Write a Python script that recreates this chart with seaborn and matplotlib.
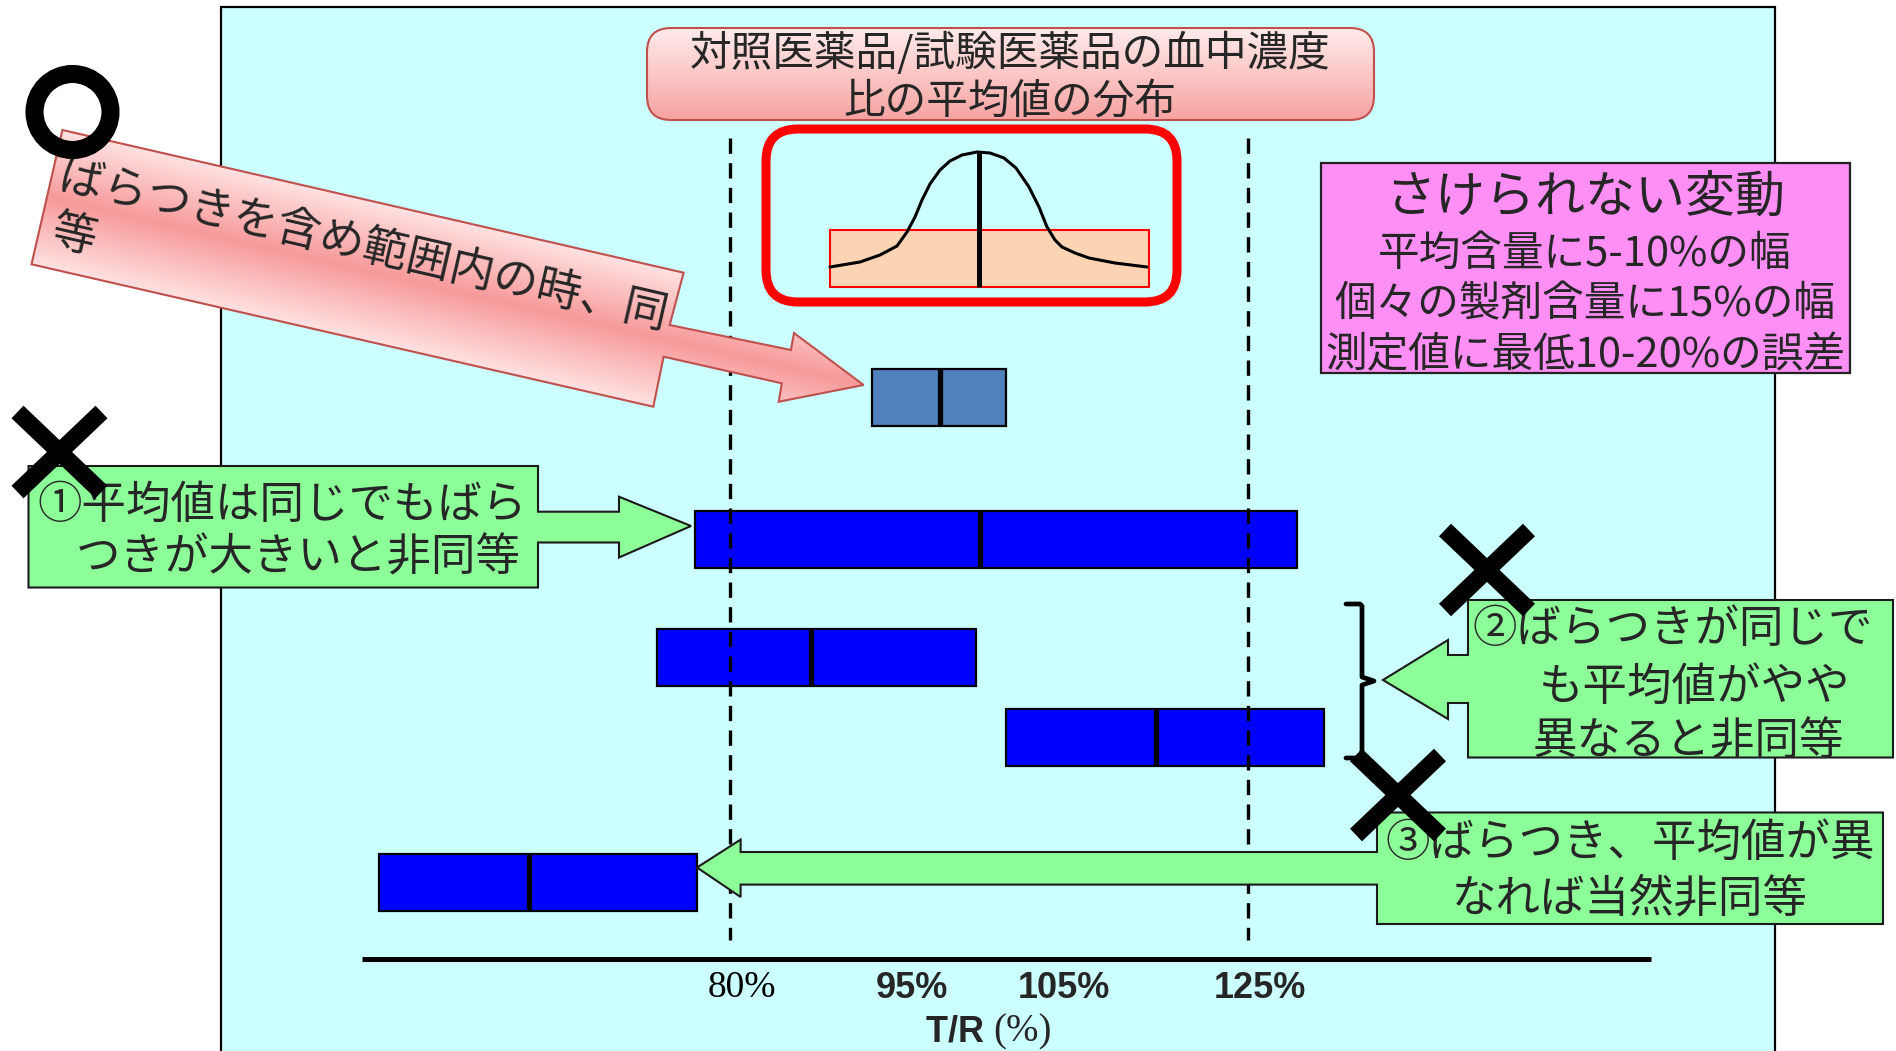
import numpy as np
import matplotlib
matplotlib.use("Agg")
import matplotlib.pyplot as plt
import seaborn as sns
from matplotlib.patches import Polygon, FancyBboxPatch, Rectangle, Circle
from matplotlib.colors import to_rgb

# ---------------- data ----------------
# T/R ratio (%) for each distribution bar: lower end, mean, upper end
lower = [92.3, 77.0, 73.7, 104.0, 49.5]
median = [98.2, 101.7, 87.0, 117.0, 62.5]
upper = [104.0, 129.3, 101.4, 131.6, 77.1]
bar_colors = ["#4F81BD", "#0000FF", "#0000FF", "#0000FF", "#0000FF"]
limits = [80, 125]                       # acceptance range
tick_labels = ["80%", "95%", "105%", "125%"]

# density sketch inside the highlighted inset (pixel coordinates)
curve_x = [830, 860, 880, 897, 907, 915, 922, 930, 940, 950, 962, 977, 990,
           1004, 1016, 1029, 1039, 1047, 1055, 1062, 1075, 1089, 1115, 1147]
curve_y = [267, 262, 255, 246, 232, 217, 200, 184, 170, 161, 155, 152, 153,
           158, 168, 187, 207, 227, 240, 247, 253, 258, 263, 267]

# ---------------- layout ----------------
W, H = 1896, 1051
PX80, PX125 = 730, 1248                  # pixel columns of the 80% / 125% lines
PPP = (PX125 - PX80) / (limits[1] - limits[0])
row_y = [397, 539, 657, 737, 882]
bar_h = 57
tick_pos = [81.0, 95.8, 109.0, 126.0]

sns.set_theme(style="white")
plt.rcParams["font.family"] = ["Noto Sans CJK JP", "DejaVu Sans"]

fig = plt.figure(figsize=(W / 100, H / 100), dpi=100)
fig.patch.set_facecolor("white")


def pixel_axes(z):
    a = fig.add_axes([0, 0, 1, 1], zorder=z)
    a.set_xlim(0, W)
    a.set_ylim(H, 0)
    a.axis("off")
    return a


bg = pixel_axes(0)
ax = fig.add_axes([0, 0, 1, 1], zorder=1)
ax.set_xlim(limits[0] - PX80 / PPP, limits[0] + (W - PX80) / PPP)
ax.set_ylim(H, 0)
ax.axis("off")
fg = pixel_axes(2)

# ---------------- background panel ----------------
bg.add_patch(Rectangle((221, 7), 1554, 1050, facecolor="#CCFFFF",
                       edgecolor="black", lw=1.6))

# ---------------- bars, limits, axis ----------------
ax.barh(row_y, np.subtract(upper, lower), left=lower, height=bar_h,
        color=bar_colors, edgecolor="black", linewidth=1.6, zorder=2)
ax.vlines(median, np.subtract(row_y, bar_h / 2), np.add(row_y, bar_h / 2),
          colors="black", lw=3.8, zorder=3)
for v in limits:
    ax.plot([v, v], [138, 940], color="black", lw=2.4,
            ls=(0, (4.6, 2.8)), zorder=4)
ax.plot([48.0, 160.0], [959, 959], color="black", lw=3.6,
        solid_capstyle="butt", zorder=4)
for pos, lab in zip(tick_pos, tick_labels):
    if lab == "80%":
        ax.text(pos, 988, lab, ha="center", va="center", fontsize=27,
                family="Liberation Serif", color="black")
    else:
        ax.text(pos, 988, lab, ha="center", va="center", fontsize=26,
                family="Liberation Sans", fontweight="bold")
ax.text(102.9, 1032, "T/R ", ha="right", va="center", fontsize=26,
        family="Liberation Sans", fontweight="bold")
ax.text(102.9, 1032, "(%)", ha="left", va="center", fontsize=28,
        family="Liberation Serif")


# ---------------- helpers ----------------
def gradient_fill(axis, patch, bbox, func):
    x0, y0, x1, y1 = bbox
    xs = np.linspace(x0, x1, 300)
    ys = np.linspace(y0, y1, 300)
    X, Y = np.meshgrid(xs, ys)
    img = func(X, Y)
    im = axis.imshow(img, extent=(x0, x1, y1, y0), origin="upper",
                     aspect="auto", zorder=patch.get_zorder() - 0.01,
                     interpolation="bilinear")
    im.set_clip_path(patch)


def mix(c1, c2, t):
    c1 = np.array(to_rgb(c1))
    c2 = np.array(to_rgb(c2))
    t = np.clip(t, 0, 1)[..., None]
    return c1 * (1 - t) + c2 * t


# ---------------- title box ----------------
title_box = FancyBboxPatch((647, 28), 727, 92,
                           boxstyle="round,pad=0,rounding_size=24",
                           facecolor="none", edgecolor="#C0504D", lw=1.5,
                           zorder=3)
fg.add_patch(title_box)
gradient_fill(fg, title_box, (647, 28, 1374, 120),
              lambda X, Y: mix("#FFEBEB", "#F6A3A1", (Y - 28) / 92))
fg.text(1010, 53, "対照医薬品/試験医薬品の血中濃度", ha="center",
        va="center", fontsize=30, zorder=4)
fg.text(1010, 102, "比の平均値の分布", ha="center", va="center",
        fontsize=30, zorder=4)

# ---------------- inset with the distribution sketch ----------------
fg.add_patch(FancyBboxPatch((766, 129), 411, 173,
                            boxstyle="round,pad=0,rounding_size=32",
                            facecolor="none", edgecolor="#FF0000", lw=6.5,
                            zorder=3))
fg.add_patch(Rectangle((830, 230), 319, 57, facecolor="#FBD4B4",
                       edgecolor="#FF0000", lw=1.5, zorder=3))
sns.lineplot(x=curve_x, y=curve_y, ax=fg, color="black", lw=2.2,
             estimator=None, sort=False, zorder=4)
fg.plot([979, 979], [152, 287], color="black", lw=3.6, zorder=4,
        solid_capstyle="butt")

# ---------------- variability box ----------------
fg.add_patch(Rectangle((1321, 163), 529, 210, facecolor="#FF8EF5",
                       edgecolor="#222222", lw=1.6, zorder=3))
fg.text(1585, 198, "さけられない変動", ha="center", va="center",
        fontsize=36, zorder=4)
for yy, s in zip([254, 305, 356],
                 ["平均含量に5-10%の幅", "個々の製剤含量に15%の幅",
                  "測定値に最低10-20%の誤差"]):
    fg.text(1585, yy, s, ha="center", va="center", fontsize=30, zorder=4)

# ---------------- pink arrow (equivalent case) ----------------
pink_pts = [(62.4, 130), (683.6, 272.7), (669.7, 325), (790.9, 350),
            (794, 333), (863.6, 385), (778.8, 401.7), (781.8, 383.3),
            (663.6, 356.7), (653.3, 406.7), (31.5, 264.3)]
pink = Polygon(pink_pts, closed=True, facecolor="none", edgecolor="#C0504D",
               lw=1.5, zorder=3)
fg.add_patch(pink)
nvec = np.array([-0.2239, 0.9746])


def pink_grad(X, Y):
    t = ((X - 62.4) * nvec[0] + (Y - 130) * nvec[1]) / 138.0
    return mix("#FFE2E2", "#F79A9A", 1 - np.abs(2 * t - 1))


gradient_fill(fg, pink, (25, 125, 870, 412), pink_grad)
fg.text(60, 176, "ばらつきを含め範囲内の時、同", rotation=-13,
        rotation_mode="anchor", ha="left", va="center", fontsize=32,
        zorder=4)
fg.text(52, 230, "等", rotation=-13, rotation_mode="anchor", ha="left",
        va="center", fontsize=32, zorder=4)

# ---------------- green callouts (non-equivalent cases) ----------------
GREEN = "#8CFF98"
callout1 = [(28.5, 466), (538, 466), (538, 511.7), (619, 511.7),
            (619, 496.7), (691, 526), (619, 557.5), (619, 542.5),
            (538, 542.5), (538, 587.5), (28.5, 587.5)]
callout2 = [(1468, 600), (1893, 600), (1893, 757.5), (1468, 757.5),
            (1468, 703), (1448, 703), (1448, 719), (1383, 680),
            (1448, 640), (1448, 655), (1468, 655)]
callout3 = [(1377, 812.5), (1883, 812.5), (1883, 924), (1377, 924),
            (1377, 884.6), (740.6, 884.6), (740.6, 897), (697, 867.5),
            (740.6, 839.6), (740.6, 852), (1377, 852)]
for pts in (callout1, callout2, callout3):
    fg.add_patch(Polygon(pts, closed=True, facecolor=GREEN,
                         edgecolor="#1A1A1A", lw=1.5, zorder=3))

for x, y, s in [(282, 505, "①平均値は同じでもばら"),
                (298, 558, "つきが大きいと非同等"),
                (1673, 629, "②ばらつきが同じで"),
                (1695, 687, "も平均値がやや"),
                (1688, 742, "異なると非同等"),
                (1630, 843, "③ばらつき、平均値が異"),
                (1630, 899, "なれば当然非同等")]:
    fg.text(x, y, s, ha="center", va="center", fontsize=32, zorder=4)

# bracket grouping the two shifted bars
fg.plot([1346, 1360, 1362, 1362, 1374, 1362, 1362, 1360, 1346],
        [604, 604, 606, 677, 681, 685, 756, 758, 758],
        color="black", lw=3.4, zorder=4, solid_joinstyle="round")

# ---------------- verdict marks ----------------
fg.add_patch(Circle((72.5, 112), 38, facecolor="none", edgecolor="black",
                    lw=13, zorder=6))


def cross(cx, cy, hw=48, hh=46, lw=12.5):
    d = 6
    fg.plot([cx - hw + d, cx + hw - d], [cy - hh + d, cy + hh - d],
            color="black", lw=lw, solid_capstyle="butt", zorder=6)
    fg.plot([cx - hw + d, cx + hw - d], [cy + hh - d, cy - hh + d],
            color="black", lw=lw, solid_capstyle="butt", zorder=6)


cross(59.5, 452)
cross(1487, 570)
cross(1398, 795)

fg.set_xlim(0, W)
fg.set_ylim(H, 0)
fig.savefig("out.png", dpi=100)
